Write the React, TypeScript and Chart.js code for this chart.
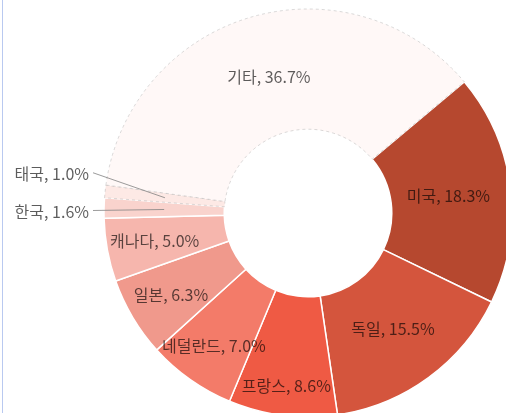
import React, { useEffect, useRef } from 'react';
import { Chart, registerables } from 'chart.js';

Chart.register(...registerables);

const countries = ['미국', '독일', '프랑스', '네덜란드', '일본', '캐나다', '한국', '태국', '기타'];
const shares = [18.3, 15.5, 8.6, 7.0, 6.3, 5.0, 1.6, 1.0, 36.7];
const sliceColors = ['#b6482f', '#d4553d', '#ef5a44', '#f37b69', '#f0998c', '#f6b6ad', '#f9d3cd', '#fde9e5', '#fff8f7'];
// where each inside label sits across the ring (0 = inner edge, 1 = outer edge)
const labelRingPos = [0.48, 0.5, 0.75, 0.66, 0.63, 0.6, 0.5, 0.5, 0.48];
const outsideLabels = ['한국', '태국'];
const outsideLabelDy = [2, -24];
const lightSlices = ['태국', '기타'];

const FONT = '16px "Noto Sans CJK KR", "Noto Sans", sans-serif';
const TEXT_COLOR = 'rgba(0,0,0,0.64)';

const labelPlugin = {
  id: 'sliceLabels',
  afterDatasetsDraw(chart: any) {
    const ctx = chart.ctx;
    const meta = chart.getDatasetMeta(0);
    ctx.save();
    ctx.font = FONT;
    ctx.textBaseline = 'middle';
    meta.data.forEach((arc: any, i: number) => {
      const { x, y, startAngle, endAngle, innerRadius, outerRadius } = arc.getProps(
        ['x', 'y', 'startAngle', 'endAngle', 'innerRadius', 'outerRadius'],
        true
      );
      const mid = (startAngle + endAngle) / 2;
      const text = `${countries[i]}, ${shares[i].toFixed(1)}%`;
      const oi = outsideLabels.indexOf(countries[i]);
      if (oi >= 0) {
        const r = (innerRadius + outerRadius) / 2;
        const ax = x + Math.cos(mid) * r;
        const ay = y + Math.sin(mid) * r;
        const lx = x - outerRadius - 15;
        const ly = ay + outsideLabelDy[oi];
        ctx.strokeStyle = 'rgba(130,130,130,0.8)';
        ctx.lineWidth = 1;
        ctx.beginPath();
        ctx.moveTo(lx + 4, ly - 1);
        ctx.lineTo(ax, ay);
        ctx.stroke();
        ctx.fillStyle = TEXT_COLOR;
        ctx.textAlign = 'right';
        ctx.fillText(text, lx, ly);
      } else {
        const r = innerRadius + labelRingPos[i] * (outerRadius - innerRadius);
        const ax = x + Math.cos(mid) * r;
        const ay = y + Math.sin(mid) * r;
        ctx.fillStyle = TEXT_COLOR;
        ctx.textAlign = 'center';
        ctx.fillText(text, ax, ay);
      }
    });
    ctx.restore();
  },
};

export default function App() {
  const canvasRef = useRef<HTMLCanvasElement | null>(null);

  useEffect(() => {
    if (!canvasRef.current) return;
    const chart = new Chart(canvasRef.current, {
      type: 'doughnut',
      data: {
        labels: countries,
        datasets: [
          {
            data: shares,
            backgroundColor: sliceColors,
            borderColor: countries.map((c) => (lightSlices.includes(c) ? 'rgba(170,170,170,0.55)' : '#ffffff')),
            borderWidth: countries.map((c) => (lightSlices.includes(c) ? 0.8 : 1.5)),
            borderDash: (c: any) => (lightSlices.includes(countries[c.dataIndex]) ? [3, 3] : []),
            hoverOffset: 0,
          } as any,
        ],
      },
      options: {
        animation: false,
        responsive: false,
        maintainAspectRatio: false,
        rotation: 50,
        radius: 204,
        cutout: 81,
        layout: { padding: { left: 110, top: 13, right: 0, bottom: 0 } },
        plugins: {
          legend: { display: false },
          tooltip: { enabled: false },
        },
        events: [],
      } as any,
      plugins: [labelPlugin],
    });
    return () => chart.destroy();
  }, []);

  return (
    <div
      style={{
        position: 'fixed',
        left: 0,
        top: 0,
        width: 506,
        height: 413,
        overflow: 'hidden',
        background: '#ffffff',
      }}
    >
      <div
        style={{
          position: 'absolute',
          left: 2,
          top: 0,
          width: 1,
          height: 413,
          background: '#b9c9f0',
        }}
      />
      <canvas ref={canvasRef} width={506} height={413} style={{ position: 'absolute', left: 0, top: 0 }} />
    </div>
  );
}
